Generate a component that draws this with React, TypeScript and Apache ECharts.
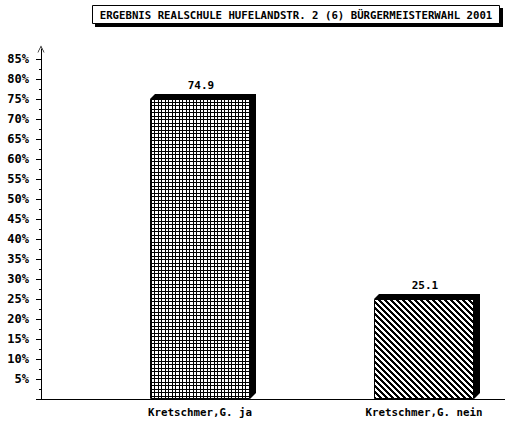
import React, { useEffect, useRef } from "react";
import * as echarts from "echarts";

const TITLE = "ERGEBNIS REALSCHULE HUFELANDSTR. 2 (6) BÜRGERMEISTERWAHL 2001";
const categories = ["Kretschmer,G. ja", "Kretschmer,G. nein"];
const values = [74.9, 25.1];
const yMax = 85;
const yInterval = 5;
const yArrowMax = 87.5;

const FONT = "'DejaVu Sans Mono', 'Liberation Mono', monospace";

function makeGridPattern(): HTMLCanvasElement {
  const c = document.createElement("canvas");
  c.width = 7;
  c.height = 7;
  const ctx = c.getContext("2d")!;
  ctx.fillStyle = "#fff";
  ctx.fillRect(0, 0, 7, 7);
  ctx.fillStyle = "#000";
  [0, 4].forEach((p) => {
    ctx.fillRect(p, 0, 1, 7);
    ctx.fillRect(0, p, 7, 1);
  });
  return c;
}

function makeStripePattern(): HTMLCanvasElement {
  const n = 6;
  const c = document.createElement("canvas");
  c.width = n;
  c.height = n;
  const ctx = c.getContext("2d")!;
  ctx.fillStyle = "#fff";
  ctx.fillRect(0, 0, n, n);
  ctx.fillStyle = "#000";
  for (let y = 0; y < n; y++) {
    for (let x = 0; x < n; x++) {
      if ((((x - y) % n) + n) % n < 3) ctx.fillRect(x, y, 1, 1);
    }
  }
  return c;
}

export default function App() {
  const ref = useRef<HTMLDivElement>(null);

  useEffect(() => {
    if (!ref.current) return;
    const chart = echarts.init(ref.current, null, { renderer: "svg" });
    const gridPat = makeGridPattern();
    const stripePat = makeStripePattern();
    const patterns = [
      { image: gridPat.toDataURL(), repeat: "repeat", imageWidth: 7, imageHeight: 7 },
      { image: stripePat.toDataURL(), repeat: "repeat", imageWidth: 6, imageHeight: 6 },
    ];

    const barData = values.map((v, i) => [i, v]);

    const option: any = {
      animation: false,
      backgroundColor: "#fff",
      graphic: [
        {
          type: "group",
          children: [
            { type: "rect", shape: { x: 95, y: 8, width: 408, height: 19 }, style: { fill: "#000" } },
            { type: "rect", shape: { x: 92.5, y: 5.5, width: 407, height: 18 }, style: { fill: "#fff", stroke: "#000", lineWidth: 1 } },
            {
              type: "text",
              x: 296,
              y: 15,
              style: {
                text: TITLE,
                fill: "#000",
                font: `bold 10.7px ${FONT}`,
                align: "center",
                verticalAlign: "middle",
              },
            },
          ],
        },
      ],
      grid: [
        { left: 41, right: 0, top: 49, bottom: 28, outerBoundsMode: "none", containLabel: false },
        { left: 41, right: 0, top: 59, bottom: 28, outerBoundsMode: "none", containLabel: false },
        { left: 88, right: -31, top: 59, bottom: 28, outerBoundsMode: "none", containLabel: false },
      ],
      xAxis: [
        {
          gridIndex: 0,
          type: "value",
          min: 0,
          max: 1,
          axisLine: { show: true, onZero: false, lineStyle: { color: "#000", width: 1 } },
          axisTick: { show: false },
          axisLabel: { show: false },
          splitLine: { show: false },
        },
        {
          gridIndex: 1,
          type: "value",
          show: false,
        },
        {
          gridIndex: 2,
          type: "category",
          data: categories,
          axisLine: { show: false },
          axisTick: { show: false },
          axisLabel: {
            margin: 8,
            color: "#000",
            fontFamily: FONT,
            fontWeight: "bold",
            fontSize: 10.8,
            interval: 0,
          },
        },
      ],
      yAxis: [
        {
          gridIndex: 0,
          type: "value",
          min: 0,
          max: yArrowMax,
          axisLine: {
            show: true,
            lineStyle: { color: "#000", width: 1 },
            symbol: ["none", "path://M0,10 L5,0 L10,10 L9,10 L5,2 L1,10 Z"],
            symbolSize: [9, 7],
          },
          axisTick: { show: false },
          axisLabel: { show: false },
          splitLine: { show: false },
        },
        {
          gridIndex: 1,
          type: "value",
          min: 0,
          max: yMax,
          interval: yInterval,
          axisLine: { show: false },
          axisTick: { show: true, length: 5, lineStyle: { color: "#000" } },
          minorTick: { show: true, splitNumber: 2, length: 2, lineStyle: { color: "#000" } },
          axisLabel: {
            margin: 12,
            color: "#000",
            fontFamily: FONT,
            fontWeight: "bold",
            fontSize: 12,
            formatter: (v: number) => (v === 0 ? "" : `${v}%`),
          },
          splitLine: { show: false },
        },
        {
          gridIndex: 2,
          type: "value",
          min: 0,
          max: yMax,
          show: false,
        },
      ],
      series: [
        {
          type: "custom",
          xAxisIndex: 2,
          yAxisIndex: 2,
          data: barData,
          encode: { x: 0, y: 1 },
          clip: false,
          renderItem: (params: any, api: any) => {
            const idx = api.value(0);
            const v = api.value(1);
            const top = api.coord([idx, v]);
            const base = api.coord([idx, 0]);
            const bw = Math.round(api.size([1, 0])[0] * 0.446);
            const cx = Math.round(top[0]);
            const x0 = cx - bw / 2;
            const x1 = cx + bw / 2;
            const yt = Math.round(top[1]);
            const yb = Math.round(base[1]);
            const dx = 6;
            const dy = 5;
            return {
              type: "group",
              children: [
                {
                  type: "polygon",
                  shape: {
                    points: [
                      [x0, yt],
                      [x0 + dy, yt - dy],
                      [x1 + dx, yt - dy],
                      [x1 + dx, yb - dx],
                      [x1, yb],
                    ],
                  },
                  style: { fill: "#000" },
                },
                {
                  type: "rect",
                  shape: { x: x0 + 0.5, y: yt + 0.5, width: bw - 1, height: yb - yt - 1 },
                  style: { fill: patterns[idx % patterns.length], stroke: "#000", lineWidth: 1 },
                },
                {
                  type: "text",
                  x: cx + 1,
                  y: yt - 14,
                  style: {
                    text: v.toFixed(1),
                    fill: "#000",
                    font: `bold 11px ${FONT}`,
                    align: "center",
                    verticalAlign: "middle",
                  },
                },
              ],
            };
          },
        },
      ],
    };

    chart.setOption(option);
    return () => chart.dispose();
  }, []);

  return (
    <div
      ref={ref}
      style={{ position: "absolute", left: 0, top: 0, width: 505, height: 427, background: "#fff" }}
    />
  );
}
